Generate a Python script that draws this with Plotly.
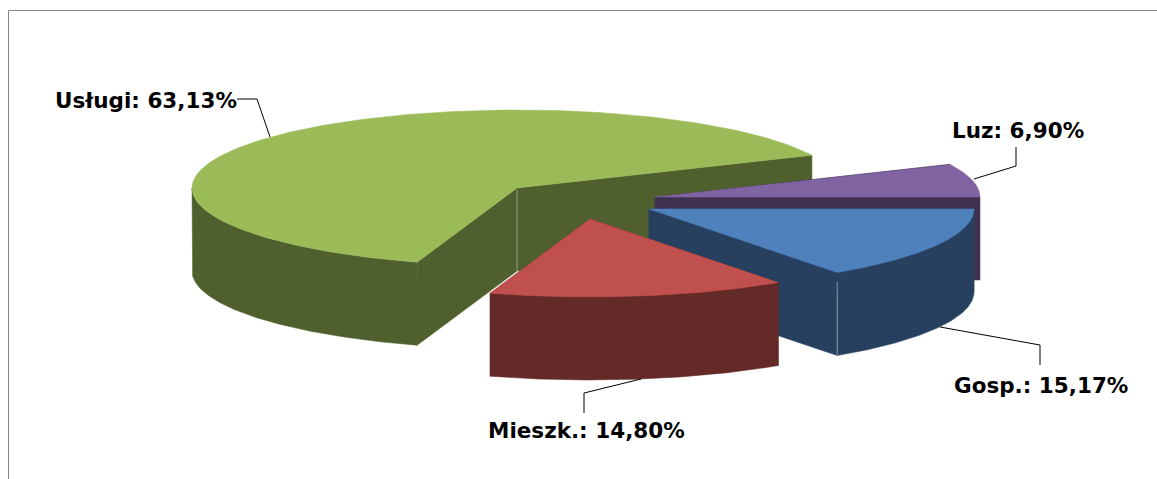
import numpy as np
import plotly.graph_objects as go

# ---- data ----
categories = ["Gosp.", "Mieszk.", "Usługi", "Luz"]
shares = [15.17, 14.80, 63.13, 6.90]

# ---- styles ----
top_colors = ["#4F81BD", "#C0504D", "#9BBB59", "#8064A2"]
side_colors = ["#284060", "#632A27", "#4F5F2D", "#413151"]
W, H = 1157, 479
RX, RY, DEPTH = 325, 78, 83
apex = {"Usługi": (517, 188), "Luz": (655, 197), "Gosp.": (649, 209), "Mieszk.": (590, 219)}
draw_order = ["Usługi", "Luz", "Gosp.", "Mieszk."]
leaders = {
    "Usługi": ([237, 257, 270], [99, 99, 137]),
    "Luz": ([1016, 1016, 974], [147, 166, 179]),
    "Gosp.": ([940, 1040, 1040], [327, 345, 365]),
    "Mieszk.": ([641, 584, 584], [379, 393, 413]),
}
label_pos = {"Usługi": (146, 100), "Luz": (1018, 130), "Gosp.": (1041, 385), "Mieszk.": (586, 430)}

# slice angles: pie starts at the right and runs clockwise
cum = np.concatenate([[0], np.cumsum(shares)]) / sum(shares) * 2 * np.pi
angles = {c: (cum[i], cum[i + 1]) for i, c in enumerate(categories)}


def pt(c, t, dz=0):
    ax, ay = apex[c]
    return ax + RX * np.cos(t), ay + RY * np.sin(t) + dz


fig = go.Figure()


def poly(xs, ys, color):
    fig.add_trace(go.Scatter(x=list(xs), y=list(ys), mode="lines", fill="toself",
                             fillcolor=color, line=dict(color=color, width=0.5),
                             hoverinfo="skip", showlegend=False))


for c in draw_order:
    i = categories.index(c)
    a0, a1 = angles[c]
    ax, ay = apex[c]
    side, top = side_colors[i], top_colors[i]
    # radial walls
    for a in (a0, a1):
        px, py = pt(c, a)
        poly([ax, px, px, ax, ax], [ay, py, py + DEPTH, ay + DEPTH, ay], side)
    # outer wall (only the part facing the viewer: sin(t) > 0 in screen coordinates)
    lo, hi = max(a0, 0), min(a1, np.pi)
    if hi > lo:
        t = np.linspace(lo, hi, 120)
        x, y = pt(c, t)
        poly(np.r_[x, x[::-1], x[0]], np.r_[y, (y + DEPTH)[::-1], y[0]], side)
    # top face
    t = np.linspace(a0, a1, 240)
    x, y = pt(c, t)
    poly(np.r_[ax, x, ax], np.r_[ay, y, ay], top)

# thin seams at wall corners
for c, a in (("Usługi", None), ("Gosp.", angles["Gosp."][1])):
    if a is None:
        sx, sy = apex[c]
        sy += 2
    else:
        sx, sy = pt(c, a)
        sy += 9
    fig.add_trace(go.Scatter(x=[sx, sx], y=[sy, apex[c][1] + DEPTH + (0 if a is None else RY * np.sin(a))],
                             mode="lines", line=dict(color="rgba(210,215,220,0.55)", width=1),
                             hoverinfo="skip", showlegend=False))

# leader lines
for c in categories:
    lx, ly = leaders[c]
    fig.add_trace(go.Scatter(x=lx, y=ly, mode="lines", line=dict(color="#000000", width=1),
                             hoverinfo="skip", showlegend=False))

# labels
for c, v in zip(categories, shares):
    fig.add_annotation(x=label_pos[c][0], y=label_pos[c][1], xref="x", yref="y",
                       text="<b>%s: %s%%</b>" % (c, f"{v:.2f}".replace(".", ",")),
                       showarrow=False, font=dict(family="DejaVu Sans", size=21.5, color="#000000"))

fig.update_layout(
    width=W, height=H, autosize=False, margin=dict(l=0, r=0, t=0, b=0),
    paper_bgcolor="#FFFFFF", plot_bgcolor="#FFFFFF", showlegend=False,
    xaxis=dict(range=[0, W], visible=False, fixedrange=True),
    yaxis=dict(range=[H, 0], visible=False, fixedrange=True),
    shapes=[dict(type="line", xref="x", yref="y", x0=8.5, x1=8.5, y0=10.5, y1=H, line=dict(color="#868686", width=1)),
            dict(type="line", xref="x", yref="y", x0=8.5, x1=W, y0=10.5, y1=10.5, line=dict(color="#868686", width=1))],
)

fig.write_html("out.html", config={"displayModeBar": False},
               post_script="document.body.style.margin='0';document.body.style.overflow='hidden';")
